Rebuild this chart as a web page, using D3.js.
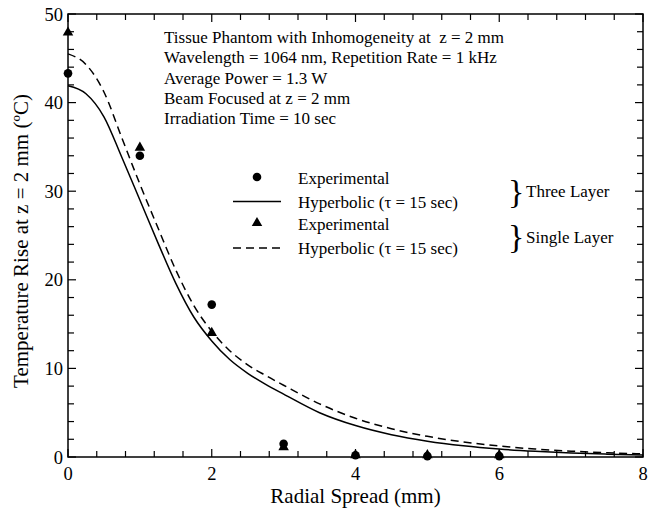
<!DOCTYPE html>
<html>
<head>
<meta charset="utf-8">
<script src="https://cdn.jsdelivr.net/npm/d3@7"></script>
<style>
  html, body { margin: 0; padding: 0; background: #fff; }
  svg text { font-family: "Liberation Serif", "Times New Roman", serif; fill: #000; }
</style>
</head>
<body>
<svg id="chart" width="650" height="510"></svg>
<script>
// Measured temperature rise (three-layer and single-layer phantoms)
const expRadius = [0, 1, 2, 3, 4, 5, 6];
const expThreeLayer = [43.3, 34.0, 17.2, 1.5, 0.2, 0.1, 0.1];
const expSingleLayer = [47.8, 34.8, 13.9, 1.0, 0.1, 0.1, 0.1];

// Hyperbolic model predictions (tau = 15 sec)
const modelRadius = [0, 0.25, 0.5, 0.75, 1.0, 1.25, 1.5, 1.75, 2.0, 2.25, 2.5, 2.75, 3.0, 3.5, 4.0, 4.5, 5.0, 5.5, 6.0, 6.5, 7.0, 7.5, 8.0];
const modelThreeLayer = [41.9, 41.0, 38.4, 33.8, 29.0, 24.2, 19.6, 15.8, 13.1, 11.0, 9.45, 8.2, 7.1, 5.0, 3.55, 2.52, 1.79, 1.27, 0.9, 0.64, 0.45, 0.32, 0.23];
const modelSingleLayer = [45.5, 44.3, 41.2, 36.0, 30.8, 25.9, 21.1, 17.1, 14.2, 12.0, 10.4, 9.2, 8.1, 6.0, 4.37, 3.19, 2.33, 1.7, 1.24, 0.9, 0.66, 0.48, 0.35];

const xTicks = [0, 2, 4, 6, 8];
const yTicks = [0, 10, 20, 30, 40, 50];

const infoLines = [
  "Tissue Phantom with Inhomogeneity at  z = 2 mm",
  "Wavelength = 1064 nm, Repetition Rate = 1 kHz",
  "Average Power = 1.3 W",
  "Beam Focused at z = 2 mm",
  "Irradiation Time = 10 sec"
];

const svg = d3.select("#chart");
const pLeft = 68, pRight = 643, pTop = 14, pBottom = 457;

const x = d3.scaleLinear().domain([0, 8]).range([pLeft, pRight]);
const y = d3.scaleLinear().domain([0, 50]).range([pBottom, pTop]);

// Minor ticks every 0.4 mm and every 2 degrees
const xMinor = d3.range(0, 8.0001, 0.4).map(v => +v.toFixed(2));
const yMinor = d3.range(0, 50.0001, 2);

const axisG = svg.append("g").attr("stroke", "#000").attr("stroke-width", 1.2);
const isMajorX = v => Math.abs(v / 2 - Math.round(v / 2)) < 1e-6;
const isMajorY = v => v % 10 === 0;

xMinor.forEach(v => {
  const len = isMajorX(v) ? 8 : 6;
  axisG.append("line").attr("x1", x(v)).attr("x2", x(v)).attr("y1", pBottom).attr("y2", pBottom - len);
  axisG.append("line").attr("x1", x(v)).attr("x2", x(v)).attr("y1", pTop).attr("y2", pTop + len);
});
yMinor.forEach(v => {
  const len = isMajorY(v) ? 8 : 6;
  axisG.append("line").attr("y1", y(v)).attr("y2", y(v)).attr("x1", pLeft).attr("x2", pLeft + len);
  axisG.append("line").attr("y1", y(v)).attr("y2", y(v)).attr("x1", pRight).attr("x2", pRight - len);
});

// Frame
svg.append("rect")
  .attr("x", pLeft).attr("y", pTop)
  .attr("width", pRight - pLeft).attr("height", pBottom - pTop)
  .attr("fill", "none").attr("stroke", "#000").attr("stroke-width", 1.5);

// Tick labels
svg.append("g").selectAll("text").data(xTicks).join("text")
  .attr("x", d => x(d)).attr("y", 480)
  .attr("text-anchor", "middle").attr("font-size", 18.5)
  .text(d => d);
svg.append("g").selectAll("text").data(yTicks).join("text")
  .attr("x", 63).attr("y", d => y(d) + 6.5)
  .attr("text-anchor", "end").attr("font-size", 18.5)
  .text(d => d);

// Axis titles
svg.append("text")
  .attr("x", x(4)).attr("y", 503)
  .attr("text-anchor", "middle").attr("font-size", 21)
  .text("Radial Spread (mm)");
svg.append("text")
  .attr("transform", `translate(28,241) rotate(-90)`)
  .attr("text-anchor", "middle").attr("font-size", 21)
  .text("Temperature Rise at z = 2 mm (ºC)");

// Model curves
const line = d3.line()
  .x((d, i) => x(modelRadius[i]))
  .y(d => y(d))
  .curve(d3.curveMonotoneX);

svg.append("path").attr("d", line(modelThreeLayer))
  .attr("fill", "none").attr("stroke", "#000").attr("stroke-width", 1.5);
svg.append("path").attr("d", line(modelSingleLayer))
  .attr("fill", "none").attr("stroke", "#000").attr("stroke-width", 1.5)
  .attr("stroke-dasharray", "8,5");

// Experimental markers
const tri = d3.symbol().type(d3.symbolTriangle).size(48);
svg.append("g").selectAll("path").data(expSingleLayer).join("path")
  .attr("d", tri)
  .attr("transform", (d, i) => `translate(${x(expRadius[i])},${y(d) - 1})`)
  .attr("fill", "#000");
svg.append("g").selectAll("circle").data(expThreeLayer).join("circle")
  .attr("cx", (d, i) => x(expRadius[i])).attr("cy", d => y(d))
  .attr("r", 4.3).attr("fill", "#000");

// Experiment description
svg.append("g").selectAll("text").data(infoLines).join("text")
  .attr("x", 164).attr("y", (d, i) => 43 + i * 20.3)
  .attr("font-size", 17)
  .attr("xml:space", "preserve")
  .style("white-space", "pre")
  .text(d => d);

// Legend
const lg = svg.append("g");
lg.append("circle").attr("cx", 257).attr("cy", 177).attr("r", 4.3).attr("fill", "#000");
lg.append("line").attr("x1", 233).attr("x2", 281).attr("y1", 201.5).attr("y2", 201.5)
  .attr("stroke", "#000").attr("stroke-width", 1.5);
lg.append("path").attr("d", tri).attr("transform", "translate(257,223)").attr("fill", "#000");
lg.append("line").attr("x1", 233).attr("x2", 281).attr("y1", 248).attr("y2", 248)
  .attr("stroke", "#000").attr("stroke-width", 1.5).attr("stroke-dasharray", "8,5");

const legendText = ["Experimental", "Hyperbolic (τ = 15 sec)", "Experimental", "Hyperbolic (τ = 15 sec)"];
lg.selectAll("text.lt").data(legendText).join("text").attr("class", "lt")
  .attr("x", 298).attr("y", (d, i) => [184, 208, 230, 254][i])
  .attr("font-size", 17)
  .text(d => d);

// Group braces and labels
const groups = ["Three Layer", "Single Layer"];
lg.selectAll("text.br").data(groups).join("text").attr("class", "br")
  .attr("x", 508).attr("y", (d, i) => [203, 248][i])
  .attr("font-size", 34)
  .text("}");
lg.selectAll("text.gl").data(groups).join("text").attr("class", "gl")
  .attr("x", 526).attr("y", (d, i) => [197, 243][i])
  .attr("font-size", 17)
  .text(d => d);
</script>
</body>
</html>
